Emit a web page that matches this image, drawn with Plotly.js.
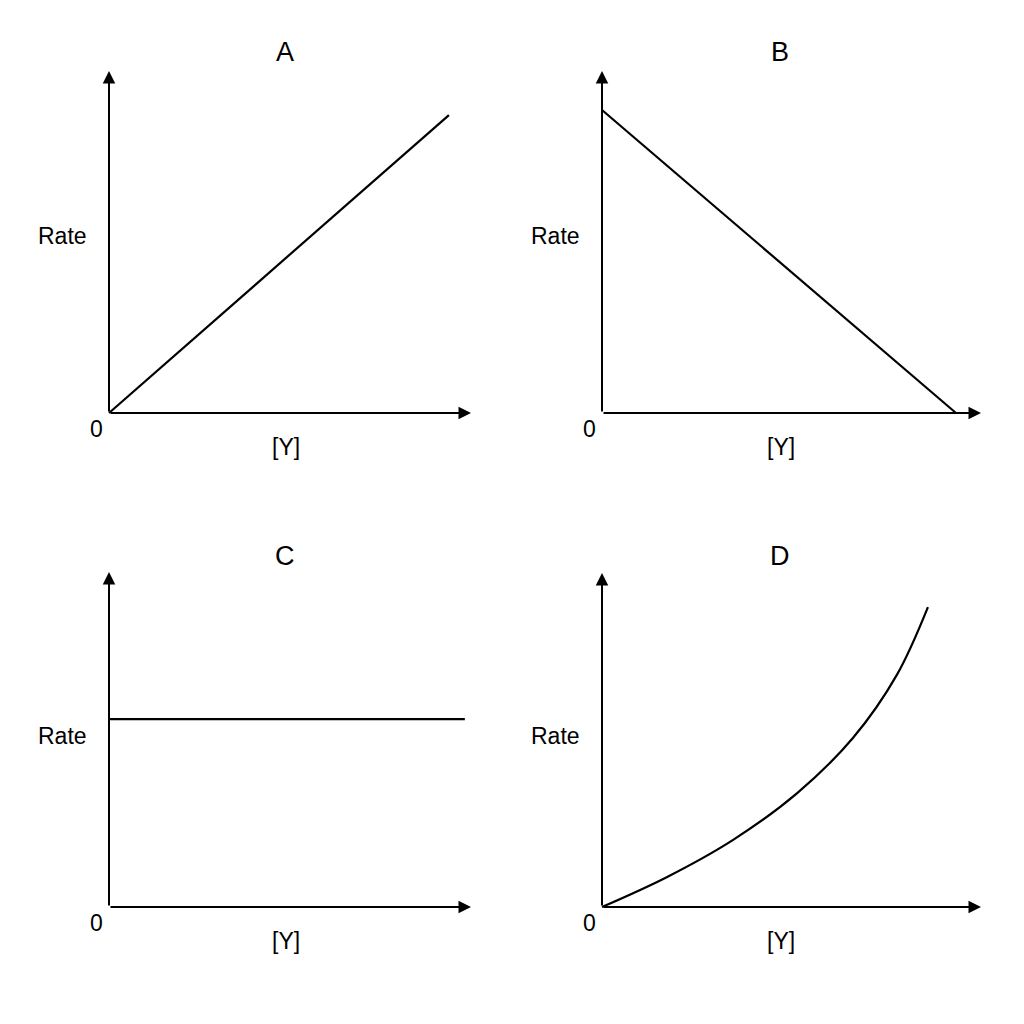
<!DOCTYPE html>
<html>
<head>
<meta charset="utf-8">
<script src="https://cdn.plot.ly/plotly-3.0.1.min.js"></script>
<style>
  html, body { margin: 0; padding: 0; background: #fff; }
  #plot { width: 1024px; height: 1024px; }
</style>
</head>
<body>
<div id="plot"></div>
<script>
// panel letters and axis labels
var panels = ['A', 'B', 'C', 'D'];
var yLabel = 'Rate';
var xLabel = '[Y]';
var originLabel = '0';

// curves, in axis units (each axis runs 0..10 from origin to arrow tip)
var aX = [0, 9.39];
var aY = [0, 8.71];

var bX = [0, 9.34];
var bY = [8.86, 0];

var cX = [0, 9.83];
var cY = [5.61, 5.61];

var dX = [0, 1.72, 3.46, 5.15, 6.62, 7.78, 8.60];
var dY = [0, 0.90, 2.01, 3.41, 5.06, 6.95, 8.98];

var AXMAX = 10;
var PAD = 0.3;
var W = 1024;
var FONT = 'Liberation Sans, Arial, sans-serif';

// pixel boxes of each panel: origin and arrow tips
var boxes = [
  {ox: 109, oy: 413, tx: 471, ty: 71},
  {ox: 602, oy: 413, tx: 981, ty: 71},
  {ox: 109, oy: 907, tx: 471, ty: 572},
  {ox: 602, oy: 907, tx: 981, ty: 573}
];

function xdom(b) {
  var u = (b.tx - b.ox) / AXMAX;
  return [(b.ox - PAD * u) / W, (b.tx + PAD * u) / W];
}
function ydom(b) {
  var u = (b.oy - b.ty) / AXMAX;
  return [1 - (b.oy + PAD * u) / W, 1 - (b.ty - PAD * u) / W];
}

var line = {color: '#000', width: 2.2};
var data = [
  {x: aX, y: aY, xaxis: 'x', yaxis: 'y', mode: 'lines', line: line},
  {x: bX, y: bY, xaxis: 'x2', yaxis: 'y2', mode: 'lines', line: line},
  {x: cX, y: cY, xaxis: 'x3', yaxis: 'y3', mode: 'lines', line: line},
  {x: dX, y: dY, xaxis: 'x4', yaxis: 'y4', mode: 'lines', line: {color: '#000', width: 2.2, shape: 'spline', smoothing: 1}}
];

var layout = {
  width: 1024,
  height: 1024,
  margin: {l: 0, r: 0, t: 0, b: 0},
  paper_bgcolor: '#fff',
  plot_bgcolor: 'rgba(0,0,0,0)',
  showlegend: false,
  font: {family: FONT, color: '#000'},
  annotations: []
};

boxes.forEach(function (b, i) {
  var n = i === 0 ? '' : String(i + 1);
  layout['xaxis' + n] = {domain: xdom(b), range: [-PAD, AXMAX + PAD], visible: false, fixedrange: true};
  layout['yaxis' + n] = {domain: ydom(b), range: [-PAD, AXMAX + PAD], visible: false, fixedrange: true};

  var xr = 'x' + n, yr = 'y' + n;
  // axis arrows
  layout.annotations.push(
    {xref: xr, yref: yr, axref: xr, ayref: yr, x: AXMAX, y: 0, ax: 0, ay: 0,
     text: '', showarrow: true, arrowhead: 2, arrowsize: 1.25, arrowwidth: 2, arrowcolor: '#000'},
    {xref: xr, yref: yr, axref: xr, ayref: yr, x: 0, y: AXMAX, ax: 0, ay: 0,
     text: '', showarrow: true, arrowhead: 2, arrowsize: 1.25, arrowwidth: 2, arrowcolor: '#000'}
  );

  var cx = (b.ox + b.tx) / 2 + (i % 2 ? -12 : -5);
  var bottom = i > 1;
  // labels
  layout.annotations.push(
    {xref: 'paper', yref: 'paper', x: cx / W, y: 1 - (b.oy - (bottom ? 351 : 361)) / W, text: panels[i],
     showarrow: false, xanchor: 'center', yanchor: 'middle', font: {size: 27}},
    {xref: 'paper', yref: 'paper', x: (b.ox - 47) / W, y: 1 - (b.oy - 177 + (bottom ? 6 : 0)) / W, text: yLabel,
     showarrow: false, xanchor: 'center', yanchor: 'middle', font: {size: 23}},
    {xref: 'paper', yref: 'paper', x: (b.ox - 13) / W, y: 1 - (b.oy + 16) / W, text: originLabel,
     showarrow: false, xanchor: 'center', yanchor: 'middle', font: {size: 23}},
    {xref: 'paper', yref: 'paper', x: cx / W + 1 / W, y: 1 - (b.oy + 34) / W, text: xLabel,
     showarrow: false, xanchor: 'center', yanchor: 'middle', font: {size: 23}}
  );
});

Plotly.newPlot('plot', data, layout, {staticPlot: true});
</script>
</body>
</html>
